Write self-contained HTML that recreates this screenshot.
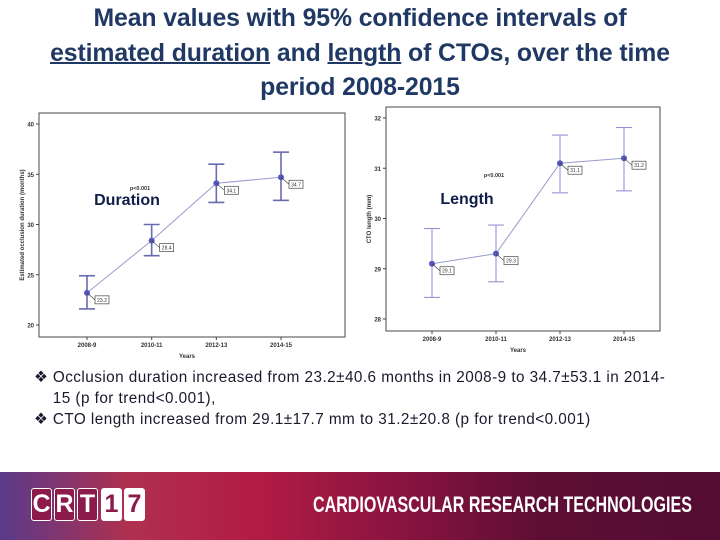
<!DOCTYPE html>
<html><head><meta charset="utf-8">
<style>
body{margin:0;width:720px;height:540px;overflow:hidden;background:#fff;font-family:"Liberation Sans",sans-serif;position:relative}
#title{position:absolute;top:2px;left:0;width:720px;text-align:center;color:#1f3864;font-size:24.8px;line-height:34.5px;font-weight:bold;letter-spacing:-0.1px}
#title u{text-decoration-thickness:2px}
.bul{position:absolute;left:34px;font-size:15.3px;color:#1a1a2e;line-height:21px;letter-spacing:0.45px;white-space:nowrap}
#footer{position:absolute;left:0;top:472px;width:720px;height:68px;background:linear-gradient(90deg,#5a3a8a 0%,#b0304f 18%,#b31c44 35%,#8a1440 55%,#5e0e35 75%,#540c33 100%)}
.box{position:absolute;top:16px;width:19px;height:31px;border:1.5px solid #fff;border-radius:3px;color:#fff;font:bold 25px/31px "Liberation Sans Narrow","Liberation Sans",sans-serif;text-align:center;background:#8c1a4a}
.box.w{background:#fff;color:#8c1a4a}
#crt-text{position:absolute;left:313px;top:20px;color:#fff;font:bold 22px "Liberation Sans Narrow","Liberation Sans",sans-serif;transform:scaleX(0.73);transform-origin:left;white-space:nowrap}
</style></head><body>
<div id="title">Mean values with 95% confidence intervals of<br><u>estimated duration</u> and <u>length</u> of CTOs, over the time<br>period 2008-2015</div>
<svg id="chart" width="720" height="540" style="position:absolute;left:0;top:0"></svg>
<div class="bul" style="top:367px">❖ Occlusion duration increased from 23.2±40.6 months in 2008-9 to 34.7±53.1 in 2014-<br>&nbsp;&nbsp;&nbsp;&nbsp;15 (p for trend&lt;0.001),</div>
<div class="bul" style="top:409px">❖ CTO length increased from 29.1±17.7 mm to 31.2±20.8 (p for trend&lt;0.001)</div>
<div id="footer">
<div class="box" style="left:31px">C</div>
<div class="box" style="left:54px">R</div>
<div class="box" style="left:77px">T</div>
<div class="box w" style="left:101px">1</div>
<div class="box w" style="left:124px">7</div>
<div id="crt-text">CARDIOVASCULAR RESEARCH TECHNOLOGIES</div>
</div>
<script>
const categories=["2008-9","2010-11","2012-13","2014-15"];
const durMean=[23.2,28.4,34.1,34.7];
const durLow=[21.6,26.9,32.2,32.4];
const durHigh=[24.9,30.0,36.0,37.2];
const durTicks=[20,25,30,35,40];
const lenMean=[29.1,29.3,31.1,31.2];
const lenLow=[28.43,28.74,30.51,30.55];
const lenHigh=[29.8,29.87,31.66,31.81];
const lenTicks=[28,29,30,31,32];
const svg=document.getElementById('chart');
const NS='http://www.w3.org/2000/svg';
function mk(t,a,txt){const e=document.createElementNS(NS,t);for(const k in a)e.setAttribute(k,a[k]);if(txt!==undefined)e.textContent=txt;svg.appendChild(e);return e;}
function draw(cfg){
  const {fx0,fy0,fx1,fy1,xs,ymin,ymax,py0,py1,mean,lo,hi,ticks,ylabel,name,big,bigx,bigy,px,py,ecol,lw}=cfg;
  const y=v=>py0+(ymax-v)/(ymax-ymin)*(py1-py0);
  const x=i=>xs[0]+i*(xs[1]-xs[0])/3;
  let e=mk('rect',{x:fx0,y:fy0,width:fx1-fx0,height:fy1-fy0,fill:'none',stroke:'#666','stroke-width':1.2});
  
  ticks.forEach(t=>{mk('line',{x1:fx0-3,x2:fx0,y1:y(t),y2:y(t),stroke:'#444'});
    e=mk('text',{x:fx0-5,y:y(t)+2.5,'font-size':6,'text-anchor':'end',fill:'#333','font-weight':'bold'},t);
    });
  categories.forEach((c,i)=>{mk('line',{x1:x(i),x2:x(i),y1:fy1,y2:fy1+3,stroke:'#444'});
    e=mk('text',{x:x(i),y:fy1+10,'font-size':6,'text-anchor':'middle',fill:'#333','font-weight':'bold'},c);
    });
  e=mk('text',{x:(fx0+fx1)/2-5,y:fy1+21,'font-size':6,'text-anchor':'middle',fill:'#333','font-weight':'bold'},'Years');
  
  const cy=(fy0+fy1)/2;
  e=mk('text',{x:fx0-15,y:cy,'font-size':6,'text-anchor':'middle',fill:'#333','font-weight':'bold',transform:`rotate(-90 ${fx0-15} ${cy})`},ylabel);
  
  e=mk('polyline',{points:mean.map((v,i)=>x(i)+','+y(v)).join(' '),fill:'none',stroke:'#9a9acc','stroke-width':1});
  
  mean.forEach((v,i)=>{
    const g=mk('g',{});
    [[x(i),y(lo[i]),x(i),y(hi[i])],[x(i)-8,y(lo[i]),x(i)+8,y(lo[i])],[x(i)-8,y(hi[i]),x(i)+8,y(hi[i])]].forEach(l=>{
      const ln=document.createElementNS(NS,'line');ln.setAttribute('x1',l[0]);ln.setAttribute('y1',l[1]);ln.setAttribute('x2',l[2]);ln.setAttribute('y2',l[3]);ln.setAttribute('stroke',ecol);ln.setAttribute('stroke-width',lw);g.appendChild(ln);});
    e=mk('circle',{cx:x(i),cy:y(v),r:3,fill:'#5558b8'});
    
    mk('line',{x1:x(i),y1:y(v),x2:x(i)+8,y2:y(v)+7,stroke:'#333','stroke-width':0.6});
    mk('rect',{x:x(i)+8,y:y(v)+3,width:14,height:8,fill:'#fff',stroke:'#444','stroke-width':0.7});
    e=mk('text',{x:x(i)+15,y:y(v)+9,'font-size':5,'text-anchor':'middle',fill:'#333'},v.toFixed(1));
    
  });
  e=mk('text',{x:px,y:py,'font-size':5.5,'text-anchor':'middle',fill:'#333','font-weight':'bold'},'p<0.001');
  
  e=mk('text',{x:bigx,y:bigy,'font-size':16,'font-weight':'bold','text-anchor':'middle',fill:'#0f1f4a'},big);
  
}
draw({fx0:39,fy0:113,fx1:345,fy1:337,xs:[87,281],ymin:20,ymax:40,py0:124,py1:325,mean:durMean,lo:durLow,hi:durHigh,ticks:durTicks,ylabel:'Estimated occlusion duration (months)',name:'duration',big:'Duration',bigx:127,bigy:205,px:140,py:190,ecol:'#6a6ab0',lw:1.6});
draw({fx0:386,fy0:107,fx1:660,fy1:331,xs:[432,624],ymin:28,ymax:32,py0:118,py1:319,mean:lenMean,lo:lenLow,hi:lenHigh,ticks:lenTicks,ylabel:'CTO length (mm)',name:'length',big:'Length',bigx:467,bigy:204,px:494,py:177,ecol:'#8a8ad8',lw:1});
</script>
</body></html>
